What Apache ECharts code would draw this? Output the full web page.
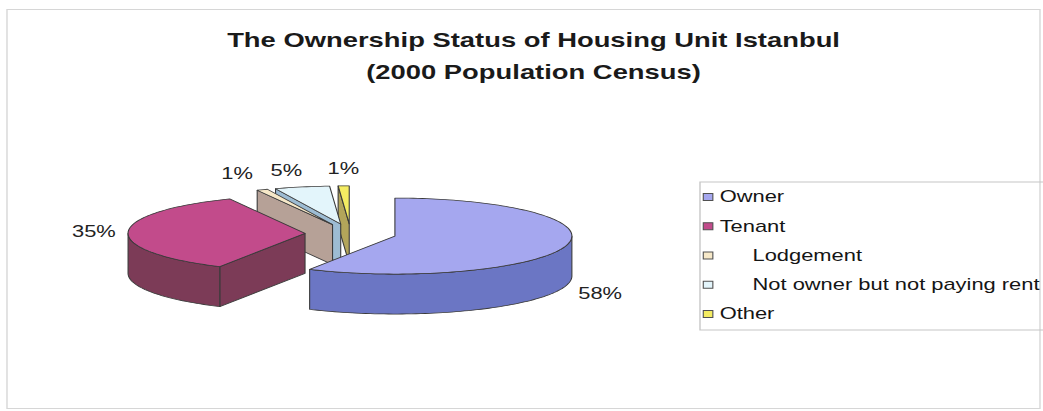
<!DOCTYPE html>
<html>
<head>
<meta charset="utf-8">
<script src="https://cdn.jsdelivr.net/npm/echarts@6/dist/echarts.min.js"></script>
<style>
  html, body { margin: 0; padding: 0; background: #ffffff; overflow: hidden; }
  #wrap { width: 1043px; height: 411px; overflow: hidden; }
  /* the chart is laid out on a narrower canvas and widened to fill the window */
  #chart { width: 762px; height: 411px; transform: scaleX(1.36877); transform-origin: 0 0; }
</style>
</head>
<body>
<div id="wrap"><div id="chart"></div></div>
<script>
// Ownership status of housing units, Istanbul, 2000 census (percent shares)
const categories = ['Owner', 'Tenant', 'Lodgement', 'Not owner but not paying rent', 'Other'];
const shares = [58, 35, 1, 5, 1];

// slice styling
const topColors  = ['#a5a7ef', '#c24b8b', '#f6e8c8', '#e3f5fb', '#f4ec62'];
const sideColors = ['#6b76c4', '#7c3b57', '#b6a197', '#9dbcd3', '#b3a55a'];
const indentedNames = ['Lodgement', 'Not owner but not paying rent'];
const labelNudgeX = [0, 0, -3.3, -9.5, 0];

// 3D pie geometry (layout units of the un-widened canvas)
const FONT = '"Liberation Sans", Arial, sans-serif';
const CENTER = [256.2, 233.6];
const RX = 129.3, RY = 38, DEPTH = 40, EXPLODE = 0.258, LABEL_GAP = 9;

const total = shares.reduce((s, v) => s + v, 0);

function pt(c, t, dy) {
  return [c[0] + RX * Math.sin(t), c[1] - RY * Math.cos(t) + (dy || 0)];
}
function arc(c, t0, t1, dy) {
  const n = Math.max(2, Math.ceil(Math.abs(t1 - t0) / (Math.PI / 120)));
  const out = [];
  for (let k = 0; k <= n; k++) out.push(pt(c, t0 + (t1 - t0) * k / n, dy));
  return out;
}

function renderSlice(params, api) {
  const i = params.seriesIndex;
  const value = api.value(0);
  const before = shares.slice(0, i).reduce((s, v) => s + v, 0);
  const t0 = 2 * Math.PI * before / total;
  const t1 = 2 * Math.PI * (before + value) / total;
  const tm = (t0 + t1) / 2;
  const c = [CENTER[0] + EXPLODE * RX * Math.sin(tm), CENTER[1] - EXPLODE * RY * Math.cos(tm)];
  const cb = [c[0], c[1] + DEPTH];
  const stroke = '#3a3a3a';
  const children = [];
  const face = (points, key) => children.push({
    type: 'polygon', z2: Math.round(key),
    shape: { points: points },
    style: { fill: sideColors[i], stroke: stroke, lineWidth: 0.8, lineJoin: 'round' }
  });

  // curved outer wall, front half only
  const a0 = Math.max(t0, Math.PI / 2), a1 = Math.min(t1, 3 * Math.PI / 2);
  if (a1 > a0) {
    const top = arc(c, a0, a1, 0);
    const bottom = arc(c, a1, a0, DEPTH);
    face(top.concat(bottom), pt(c, (a0 + a1) / 2)[1]);
  }
  // radial cut faces that turn towards the viewer
  if (Math.sin(t0) < -1e-6) {
    const p = pt(c, t0), pb = pt(c, t0, DEPTH);
    face([c, p, pb, cb], (c[1] + p[1]) / 2);
  }
  if (Math.sin(t1) > 1e-6) {
    const p = pt(c, t1), pb = pt(c, t1, DEPTH);
    face([c, p, pb, cb], (c[1] + p[1]) / 2);
  }
  // top surface
  children.push({
    type: 'polygon', z2: 1000,
    shape: { points: [c].concat(arc(c, t0, t1, 0)) },
    style: { fill: topColors[i], stroke: stroke, lineWidth: 0.8, lineJoin: 'round' }
  });

  // percentage label
  const s = Math.sin(tm), k = -Math.cos(tm);
  const lx = c[0] + (RX + LABEL_GAP) * s + labelNudgeX[i];
  let ly = c[1] + (RY + LABEL_GAP) * k;
  if (k > 0.1) ly += DEPTH + LABEL_GAP * 0.6;
  children.push({
    type: 'text', z2: 1100,
    style: {
      text: value + '%', x: lx, y: ly,
      align: s > 0.35 ? 'left' : (s < -0.35 ? 'right' : 'center'),
      verticalAlign: k < -0.5 ? 'bottom' : (k > 0.5 ? 'top' : 'middle'),
      fill: '#222222', fontSize: 16, fontFamily: FONT
    }
  });
  return { type: 'group', children: children };
}

const chart = echarts.init(document.getElementById('chart'), null, { renderer: 'svg' });
chart.setOption({
  animation: false,
  backgroundColor: '#ffffff',
  title: {
    text: 'The Ownership Status of Housing Unit Istanbul\n(2000 Population Census)',
    left: 384.8, top: 19,
    padding: 5,
    textAlign: 'center',
    textStyle: { fontSize: 20, fontWeight: 'bold', fontFamily: FONT, color: '#1a1a1a', lineHeight: 32 }
  },
  legend: {
    orient: 'vertical',
    left: 511.4, top: 182,
    padding: [6, 12, 7, 2],
    borderColor: '#c6c6c6', borderWidth: 1,
    itemWidth: 7, itemHeight: 7, itemGap: 11.25,
    selectedMode: false,
    icon: 'rect',
    itemStyle: { borderColor: '#505050', borderWidth: 0.8 },
    data: categories,
    formatter: name => indentedNames.indexOf(name) >= 0 ? '{ind|' + name + '}' : name,
    textStyle: {
      fontSize: 16, fontFamily: FONT, color: '#151515', lineHeight: 18,
      rich: { ind: { padding: [0, 0, 0, 24], fontSize: 16, fontFamily: FONT, color: '#151515', lineHeight: 18 } }
    }
  },
  graphic: [{
    type: 'rect', silent: true, z: -1,
    shape: { x: 5.1, y: 9.5, width: 754.7, height: 399 },
    style: { fill: 'none', stroke: '#d6d6d6', lineWidth: 1 }
  }],
  series: categories.map((name, i) => ({
    type: 'custom',
    name: name,
    coordinateSystem: 'none',
    silent: true,
    itemStyle: { color: topColors[i] },
    data: [[shares[i]]],
    renderItem: renderSlice
  }))
});
</script>
</body>
</html>
